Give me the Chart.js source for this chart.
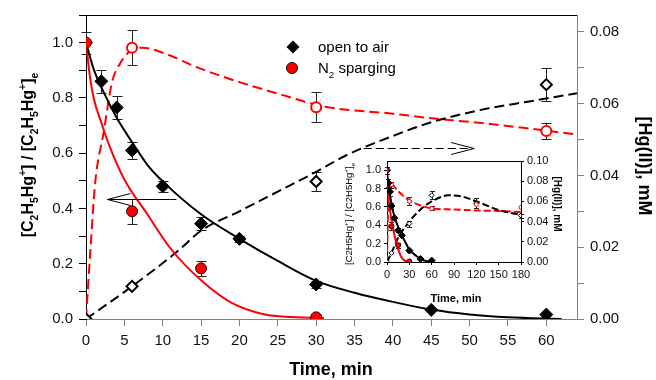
<!DOCTYPE html>
<html>
<head>
<meta charset="utf-8">
<script src="https://cdn.jsdelivr.net/npm/chart.js@4.4.1/dist/chart.umd.min.js"></script>
<style>
  body { margin: 0; background: #fff; }
  #wrap { position: relative; width: 656px; height: 380px; }
  #main { position: absolute; left: 0; top: 0; }
  #inset { position: absolute; left: 330px; top: 150px; }
</style>
</head>
<body>
<div id="wrap">
  <canvas id="main" width="656" height="380"></canvas>
  <canvas id="inset" width="245" height="160"></canvas>
</div>
<script>
// ---- main panel data (time in min) ----
const airT     = [0, 2, 4, 6, 10, 15, 20, 30, 45, 60];
const airEt    = [1.0, 0.86, 0.765, 0.61, 0.48, 0.345, 0.29, 0.125, 0.033, 0.016];
const airEtErr = [0.04, 0.042, 0.042, 0.03, 0.02, 0.023, 0.012, 0.012, 0, 0];
const n2T      = [0, 6, 15, 30];
const n2Et     = [1.0, 0.39, 0.183, 0.006];
const n2EtErr  = [0, 0.045, 0.027, 0];
const airHgT   = [0, 6, 30, 60];
const airHg    = [0, 0.0091, 0.0383, 0.0653];
const airHgErr = [0, 0, 0.0026, 0.0046];
const n2HgT    = [6, 30, 60];
const n2Hg     = [0.0756, 0.059, 0.0524];
const n2HgErr  = [0.0048, 0.0042, 0.0023];

// fitted curves
const fitAirEtT = [0, 1, 2.5, 4, 6, 8, 10, 15, 20, 25, 30, 35, 40, 45, 50, 55, 62];
const fitAirEt  = [1.0, 0.904, 0.809, 0.728, 0.64, 0.558, 0.498, 0.379, 0.29, 0.21, 0.138, 0.095, 0.062, 0.034, 0.016, 0.006, 0.0];
const fitN2EtT  = [0, 0.5, 1, 2, 3, 5, 8, 11, 15, 19, 23, 26, 31];
const fitN2Et   = [1.0, 0.88, 0.8, 0.71, 0.63, 0.505, 0.379, 0.256, 0.14, 0.058, 0.018, 0.008, 0.004];
const fitAirHgT = [0, 6, 12, 15, 20, 25, 30, 34, 40, 45, 52, 58, 64];
const fitAirHg  = [0, 0.0091, 0.019, 0.0246, 0.03, 0.0355, 0.041, 0.0457, 0.051, 0.0548, 0.0585, 0.0607, 0.0629];
const fitN2HgT  = [0, 0.6, 1.2, 2.3, 3.4, 4.5, 5.8, 7.3, 10, 14.5, 20, 25, 31, 40, 46, 52, 58, 64];
const fitN2Hg   = [0, 0.02, 0.038, 0.052, 0.066, 0.0714, 0.0747, 0.0756, 0.0742, 0.0701, 0.066, 0.0628, 0.0592, 0.0572, 0.0557, 0.0545, 0.053, 0.0514];

// ---- inset data (0-180 min) ----
const inAirHgT   = [0, 6, 30, 60, 120, 180];
const inAirHg    = [0, 0.009, 0.038, 0.066, 0.058, 0.046];
const inAirHgErr = [0, 0, 0.003, 0.004, 0.005, 0.002];
const inN2HgT    = [6, 30, 60, 120, 180];
const inN2Hg     = [0.0767, 0.06, 0.053, 0.057, 0.054];
const inN2HgErr  = [0.003, 0.004, 0.002, 0, 0];
const inFitAirHgT = [0, 6, 15, 30, 45, 60, 75, 82, 100, 120, 150, 180];
const inFitAirHg  = [0, 0.009, 0.024, 0.04, 0.052, 0.06, 0.065, 0.066, 0.065, 0.06, 0.0515, 0.0465];
const inFitN2HgT  = [0, 1, 3, 5, 15, 30, 45, 60, 90, 120, 150, 180];
const inFitN2Hg   = [0, 0.04, 0.074, 0.0775, 0.07, 0.061, 0.056, 0.053, 0.052, 0.051, 0.0505, 0.0495];

// tick labels
const leftTicks  = [0, 0.2, 0.4, 0.6, 0.8, 1.0];
const rightTicks = [0, 0.02, 0.04, 0.06, 0.08];
const inRightTicks = [0, 0.02, 0.04, 0.06, 0.08, 0.10];

const FONT = 'Arial, "Liberation Sans", sans-serif';
const RED = '#ff0000';

function pts(xs, ys) {
    return xs.map(function (x, i) { return { x: x, y: ys[i] }; });
}
function pickLabel(list, digits) {
    return function (v) {
        var t = list.find(function (a) { return Math.abs(a - v) < 1e-6; });
        return t === undefined ? '' : t.toFixed(digits);
    };
}

// error bars drawn under the markers
const errorBars = {
    id: 'errorBars',
    beforeDatasetsDraw(chart) {
        const ctx = chart.ctx;
        chart.data.datasets.forEach(function (ds) {
            if (!ds.errors) return;
            const xs = chart.scales.x, ys = chart.scales[ds.yAxisID];
            const w = ds.capWidth || 5;
            ctx.save();
            ctx.strokeStyle = '#222';
            ctx.lineWidth = 1;
            ds.data.forEach(function (p, j) {
                const e = ds.errors[j];
                if (!e) return;
                const px = Math.round(xs.getPixelForValue(p.x)) + 0.5;
                const y1 = Math.round(ys.getPixelForValue(p.y + e)) + 0.5;
                const y2 = Math.round(ys.getPixelForValue(p.y - e)) + 0.5;
                ctx.beginPath();
                ctx.moveTo(px, y1); ctx.lineTo(px, y2);
                ctx.moveTo(px - w, y1); ctx.lineTo(px + w, y1);
                ctx.moveTo(px - w, y2); ctx.lineTo(px + w, y2);
                ctx.stroke();
            });
            ctx.restore();
        });
    }
};

// text with sub/superscripts; parts = [[text, 0|1|-1], ...]
function drawRich(ctx, parts, x, y, angle, size, weight, align) {
    ctx.save();
    ctx.translate(x, y);
    ctx.rotate(angle);
    ctx.fillStyle = '#000';
    ctx.textBaseline = 'alphabetic';
    ctx.textAlign = 'left';
    const sm = size * 0.65;
    let total = 0;
    const widths = parts.map(function (p) {
        ctx.font = weight + ' ' + (p[1] ? sm : size) + 'px ' + FONT;
        const w = ctx.measureText(p[0]).width;
        total += w;
        return w;
    });
    let cx = align === 'left' ? 0 : -total / 2;
    const base = size * 0.36;
    parts.forEach(function (p, i) {
        ctx.font = weight + ' ' + (p[1] ? sm : size) + 'px ' + FONT;
        const dy = p[1] === 1 ? -size * 0.42 : (p[1] === -1 ? size * 0.3 : 0);
        ctx.fillText(p[0], cx, base + dy);
        cx += widths[i];
    });
    ctx.restore();
}

const etTitle = [['[C', 0], ['2', -1], ['H', 0], ['5', -1], ['Hg', 0], ['+', 1], ['] / [C', 0], ['2', -1],
                 ['H', 0], ['5', -1], ['Hg', 0], ['+', 1], [']', 0], ['e', -1]];

function diamond(ctx, x, y, r) {
    ctx.beginPath();
    ctx.moveTo(x, y - r); ctx.lineTo(x + r, y); ctx.lineTo(x, y + r); ctx.lineTo(x - r, y);
    ctx.closePath();
}

function arrow(ctx, x1, x2, y, dashed) {
    const dir = x2 > x1 ? 1 : -1;
    ctx.save();
    ctx.strokeStyle = '#000';
    ctx.lineWidth = 1;
    if (dashed) ctx.setLineDash([8, 4]);
    ctx.beginPath();
    ctx.moveTo(x1, y); ctx.lineTo(x2, y);
    ctx.stroke();
    ctx.setLineDash([]);
    ctx.beginPath();
    ctx.moveTo(x2 - dir * 23, y - 6); ctx.lineTo(x2, y); ctx.lineTo(x2 - dir * 23, y + 6);
    ctx.stroke();
    ctx.restore();
}

// frame, titles, legend, arrows of the main panel
const mainDeco = {
    id: 'mainDeco',
    afterDraw(chart) {
        const ctx = chart.ctx, a = chart.chartArea;
        const xs = chart.scales.x, yl = chart.scales.y, yr = chart.scales.y2;
        ctx.save();
        ctx.strokeStyle = '#000';
        ctx.lineWidth = 1;
        ctx.beginPath();
        ctx.moveTo(a.left, a.top + 0.5); ctx.lineTo(a.right, a.top + 0.5);
        ctx.stroke();

        drawRich(ctx, etTitle, 27, 155, -Math.PI / 2, 16, 'bold');
        drawRich(ctx, [['[Hg(II)], mM', 0]], 645, 166, Math.PI / 2, 18, 'bold');
        drawRich(ctx, [['Time, min', 0]], 331, 369, 0, 18, 'bold');

        // legend
        ctx.fillStyle = '#000';
        diamond(ctx, 293, 47, 6.5);
        ctx.fill();
        ctx.beginPath();
        ctx.arc(292, 68, 5.5, 0, Math.PI * 2);
        ctx.fillStyle = RED; ctx.fill();
        ctx.strokeStyle = '#300'; ctx.stroke();
        drawRich(ctx, [['open to air', 0]], 318, 47, 0, 15, 'normal', 'left');
        drawRich(ctx, [['N', 0], ['2', -1], [' sparging', 0]], 318, 68, 0, 15, 'normal', 'left');

        // arrows pointing to the axis each curve belongs to
        arrow(ctx, xs.getPixelForValue(11.8), xs.getPixelForValue(2.8), Math.round(yl.getPixelForValue(0.435)) + 0.5, false);
        arrow(ctx, xs.getPixelForValue(36.2), xs.getPixelForValue(50.6), Math.round(yr.getPixelForValue(0.0477)) + 0.5, true);
        ctx.restore();
    }
};

const insetDeco = {
    id: 'insetDeco',
    afterDraw(chart) {
        const ctx = chart.ctx, a = chart.chartArea;
        ctx.save();
        ctx.strokeStyle = '#000';
        ctx.lineWidth = 1;
        ctx.beginPath();
        ctx.moveTo(a.left, a.top + 0.5); ctx.lineTo(a.right, a.top + 0.5);
        ctx.stroke();
        const small = [['[C2H5Hg', 0], ['+', 1], ['] / [C2H5Hg', 0], ['+', 1], [']', 0], ['e', -1]];
        drawRich(ctx, small, 19, 64, -Math.PI / 2, 9.5, 'normal');
        drawRich(ctx, [['[Hg(II)], mM', 0]], 228, 54, Math.PI / 2, 10, 'bold');
        drawRich(ctx, [['Time, min', 0]], 126, 148, 0, 11, 'bold');
        ctx.restore();
    }
};

function axisFit(w) {
    return function (scale) { if (scale.isHorizontal()) scale.height = w; else scale.width = w; };
}

function scaleSet(o) {
    return {
        x: {
            type: 'linear', min: 0, max: o.xMax, position: 'bottom', afterFit: axisFit(o.bottom),
            border: { color: o.frameGray, width: 1 },
            grid: { drawOnChartArea: false, tickLength: o.tick, color: o.frameGray },
            ticks: { stepSize: o.xStep, includeBounds: false, autoSkip: false, maxRotation: 0,
                     padding: o.xPad, color: '#111', font: { family: FONT, size: o.font } }
        },
        y: {
            type: 'linear', min: 0, max: 1.1, position: 'left', afterFit: axisFit(o.left),
            border: { color: '#000', width: 1 },
            grid: { drawOnChartArea: false, tickLength: o.tick, color: '#000' },
            ticks: { stepSize: o.yStep, includeBounds: false, autoSkip: false, padding: o.yPad,
                     color: '#111', font: { family: FONT, size: o.font }, callback: pickLabel(leftTicks, 1) }
        },
        y2: {
            type: 'linear', min: 0, max: o.y2Max, position: 'right', afterFit: axisFit(o.right),
            border: { color: o.frameGray, width: 1 },
            grid: { drawOnChartArea: false, tickLength: o.tick, color: o.frameGray },
            ticks: { stepSize: o.y2Step, includeBounds: false, autoSkip: false, padding: o.yPad,
                     color: '#111', font: { family: FONT, size: o.font }, callback: pickLabel(o.y2Ticks, 2) }
        }
    };
}

function datasets(o) {
    return [
        { data: pts(n2T, n2Et), errors: o.err ? n2EtErr : null, yAxisID: 'y', pointStyle: 'circle',
          pointRadius: o.r, backgroundColor: RED, borderColor: '#300', borderWidth: 1, capWidth: o.cap },
        { data: pts(airT, airEt), errors: o.err ? airEtErr : null, yAxisID: 'y', pointStyle: 'rectRot',
          pointRadius: o.r + 1, backgroundColor: '#000', borderColor: '#000', borderWidth: 1, capWidth: o.cap },
        { data: pts(o.n2HgT, o.n2Hg), errors: o.n2HgErr, yAxisID: 'y2', pointStyle: 'circle',
          pointRadius: o.r - 0.5, backgroundColor: '#fff', borderColor: RED, borderWidth: o.ow, capWidth: o.cap },
        { data: pts(o.airHgT, o.airHg), errors: o.airHgErr, yAxisID: 'y2', pointStyle: 'rectRot',
          pointRadius: o.r, backgroundColor: '#fff', borderColor: '#000', borderWidth: o.ow, capWidth: o.cap },
        { data: pts(fitAirEtT, fitAirEt), yAxisID: 'y', showLine: true, pointRadius: 0,
          borderColor: '#000', borderWidth: o.lw, cubicInterpolationMode: 'monotone' },
        { data: pts(fitN2EtT, fitN2Et), yAxisID: 'y', showLine: true, pointRadius: 0,
          borderColor: RED, borderWidth: o.lw, cubicInterpolationMode: 'monotone' },
        { data: pts(o.fitAirHgT, o.fitAirHg), yAxisID: 'y2', showLine: true, pointRadius: 0,
          borderColor: '#000', borderWidth: o.lw, borderDash: o.dash, cubicInterpolationMode: 'monotone' },
        { data: pts(o.fitN2HgT, o.fitN2Hg), yAxisID: 'y2', showLine: true, pointRadius: 0,
          borderColor: RED, borderWidth: o.lw, borderDash: o.dash, cubicInterpolationMode: 'monotone' }
    ];
}

const commonOpts = {
    responsive: false,
    animation: false,
    devicePixelRatio: 1,
    plugins: { legend: { display: false }, tooltip: { enabled: false } }
};

new Chart(document.getElementById('main'), {
    type: 'scatter',
    data: {
        datasets: datasets({
            err: true, r: 5.5, ow: 2, cap: 5, lw: 2, dash: [10, 5],
            n2HgT: n2HgT, n2Hg: n2Hg, n2HgErr: n2HgErr,
            airHgT: airHgT, airHg: airHg, airHgErr: airHgErr,
            fitAirHgT: fitAirHgT, fitAirHg: fitAirHg, fitN2HgT: fitN2HgT, fitN2Hg: fitN2Hg
        })
    },
    options: Object.assign({}, commonOpts, {
        layout: { padding: { top: 12, left: 0, right: 0, bottom: 0 } },
        scales: scaleSet({ xMax: 64, xStep: 5, yStep: 0.1, y2Max: 0.0847, y2Step: 0.01, y2Ticks: rightTicks,
                           left: 86, right: 79, bottom: 61, tick: 7, xPad: 6, yPad: 6, font: 15,
                           frameGray: '#808080' })
    }),
    plugins: [errorBars, mainDeco]
});

new Chart(document.getElementById('inset'), {
    type: 'scatter',
    data: {
        datasets: datasets({
            err: true, r: 2.5, ow: 1, cap: 2.5, lw: 2, dash: [7, 3],
            n2HgT: inN2HgT, n2Hg: inN2Hg, n2HgErr: inN2HgErr,
            airHgT: inAirHgT, airHg: inAirHg, airHgErr: inAirHgErr,
            fitAirHgT: inFitAirHgT, fitAirHg: inFitAirHg, fitN2HgT: inFitN2HgT, fitN2Hg: inFitN2Hg
        })
    },
    options: Object.assign({}, commonOpts, {
        layout: { padding: { top: 11, left: 0, right: 0, bottom: 0 } },
        scales: scaleSet({ xMax: 180, xStep: 30, y2Max: 0.1, y2Step: 0.02, y2Ticks: inRightTicks,
                           left: 57, right: 54, bottom: 48, tick: 3, xPad: 3, yPad: 3, font: 11,
                           frameGray: '#000', yStep: 0.2 })
    }),
    plugins: [errorBars, insetDeco]
});
</script>
</body>
</html>
